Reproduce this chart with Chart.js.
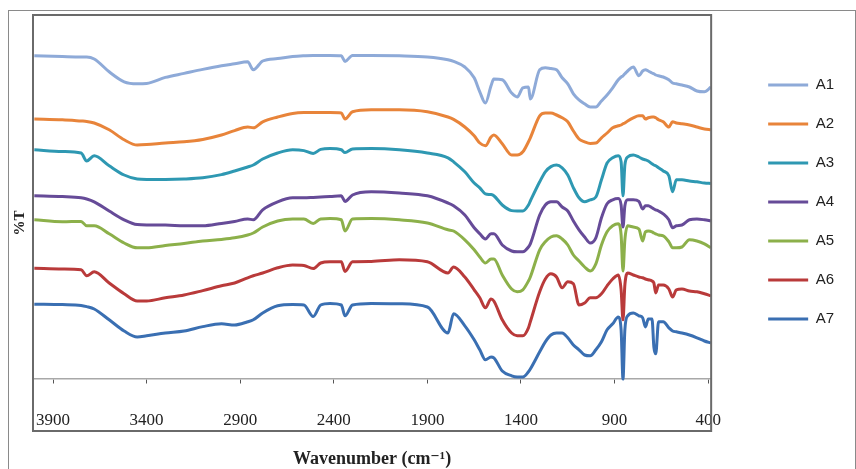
<!DOCTYPE html>
<html><head><meta charset="utf-8">
<script src="https://cdn.jsdelivr.net/npm/chart.js@4.4.1/dist/chart.umd.min.js"></script>
<style>html,body{margin:0;padding:0;background:#fff;}#wrap{width:856px;height:469px;}</style>
</head><body>
<div id="wrap"><canvas id="c" width="856" height="469"></canvas></div>
<script>
// Wavenumber grid (cm-1), shared by every series
const wavenumbers = [4000, 3850, 3750, 3720, 3680, 3600, 3520, 3450, 3400, 3300,
  3200, 3100, 3000, 2930, 2860, 2830, 2780, 2700, 2620, 2560,
  2510, 2470, 2420, 2360, 2340, 2300, 2200, 2050, 1900, 1790,
  1760, 1700, 1650, 1620, 1590, 1560, 1545, 1500, 1450, 1420,
  1390, 1360, 1350, 1300, 1270, 1240, 1210, 1180, 1150, 1120,
  1090, 1060, 1030, 1000, 970, 940, 910, 880, 865, 855,
  845, 830, 800, 770, 750, 735, 720, 700, 690, 680,
  665, 640, 610, 590, 570, 540, 500, 460, 420, 385];

const tickValues = [3900, 3400, 2900, 2400, 1900, 1400, 900, 400];
const seriesNames = ['A1', 'A2', 'A3', 'A4', 'A5', 'A6', 'A7'];

// %T (offset, stacked traces)
const A1 = [80.8, 80.6, 80.5, 80.5, 80, 76.8, 74.3, 73.8, 73.9, 75.4,
  76.4, 77.4, 78.3, 78.8, 79.3, 77.3, 79.5, 80.1, 80.6, 80.8,
  80.9, 80.9, 80.9, 80.8, 79.4, 80.9, 80.9, 80.8, 80.5, 79.8,
  79.4, 78, 75.3, 71.8, 69, 73.3, 75, 74.8, 71.5, 70.5,
  72.8, 73, 70, 77.3, 77.8, 77.6, 77.3, 75.3, 73.8, 71.3,
  69.8, 68.8, 68, 68, 69.5, 71, 72.8, 74.8, 75.5, 75.8,
  76.3, 77, 78, 75.8, 77, 77.3, 77, 76.5, 76.3, 76,
  75.8, 75.5, 74.8, 74, 73.8, 73.5, 73, 72, 71.8, 73];
const A2 = [65, 64.8, 64.5, 64.4, 64, 62.3, 59.8, 58.5, 58.6, 59,
  59.3, 59.9, 61, 62.1, 63, 62.8, 64.3, 65.5, 66.4, 66.6,
  66.6, 66.6, 66.6, 66.5, 65, 66.8, 67.3, 67.3, 66.8, 65.5,
  64.9, 63, 60.8, 59, 58.3, 60.5, 61, 58.8, 56, 56,
  56.8, 59.3, 60.3, 65.8, 66.5, 66.5, 66, 65.3, 64.3, 62,
  60, 59.3, 58.9, 59, 60.3, 61.5, 62.8, 63.3, 63.5, 63.8,
  64, 64.5, 65.3, 65.8, 65.8, 65, 65.3, 65.5, 65.5, 65.3,
  64.8, 64.3, 63, 64.3, 64, 63.8, 63.5, 63, 62.5, 62.3];
const A3 = [57.3, 56.9, 56.5, 54.5, 55.8, 53.3, 51, 50, 49.9, 49.9,
  50, 50.3, 51.1, 52, 53, 53.5, 55, 56.5, 57.3, 57.1,
  56.4, 57.4, 57.6, 57.3, 56.6, 57.5, 57.6, 57.3, 56.5, 55.3,
  54.3, 51.8, 49, 47.8, 46.3, 46.1, 45.8, 43.5, 42.1, 42,
  42, 43.5, 44.5, 49.3, 51.8, 53.1, 53.5, 52.8, 51, 47.8,
  45.3, 44.3, 44.8, 45.5, 49.8, 54, 55.3, 55.8, 54.3, 45.8,
  53.5, 55.5, 56, 55.5, 55, 54.8, 54.5, 53.8, 53.5, 53.3,
  52.8, 52, 50.8, 46.8, 49.8, 49.8, 49.5, 49.3, 49, 48.9];
const A4 = [45.8, 45.6, 45.3, 45, 44.3, 42, 39.8, 38.6, 38.5, 38.5,
  38.3, 38.3, 38.9, 39.4, 40, 39.8, 42.3, 44.3, 45.3, 45.3,
  45.4, 45.5, 45.6, 45.8, 44.4, 46, 46.8, 46.5, 45.8, 44,
  43.3, 41, 37.8, 36.3, 35, 36.3, 36.3, 33.5, 32, 31.8,
  31.8, 33, 33.8, 41, 43.5, 44.3, 44.3, 43, 42, 39.5,
  37.3, 35.5, 34, 35.3, 40.3, 43.8, 44.8, 45.1, 43.5, 38,
  43.3, 44.8, 44.8, 44.4, 42.5, 43.3, 43.3, 42.8, 42.5, 42.3,
  42, 41.3, 39.8, 37.8, 38.3, 38.5, 39.8, 40, 39.8, 39.5];
const A5 = [39.8, 39.3, 39.4, 38.3, 38.3, 36.3, 34, 32.8, 32.8, 33.4,
  33.9, 34.5, 34.9, 35.3, 36, 36.5, 38, 39.5, 40, 40,
  38.9, 40, 40.1, 39.8, 37, 40, 40.1, 39.8, 39, 37.3,
  37, 34.8, 32.3, 30.5, 29, 30, 30, 26, 22.5, 21.8,
  22.3, 24.5, 25.5, 32.3, 34.3, 35.5, 35.8, 35, 33.5, 31,
  29.5, 28, 27, 28.8, 33.5, 36.8, 38.3, 38.8, 36, 27,
  34.8, 38.3, 38, 37.5, 34.5, 36.8, 37, 36.8, 36.5, 36.3,
  36, 35.8, 34.3, 32.8, 32.8, 33, 34.8, 34.5, 33.8, 32.8];
const A6 = [27.7, 27.5, 27.3, 25.8, 26.8, 24, 21.3, 19.5, 19.5, 20.3,
  21, 22.1, 23.3, 24, 25.3, 25.8, 26.5, 27.8, 28.5, 28.4,
  27.6, 29, 29.3, 29.3, 26.9, 29.3, 29.4, 29.8, 29.3, 26.5,
  28, 25.5, 22.3, 20.3, 17.8, 20, 19.5, 14.8, 11.5, 10.8,
  10.8, 12.8, 14.3, 21.8, 25, 26.3, 25.5, 22.8, 24.3, 23.8,
  18.5, 19, 20.3, 20.3, 21.3, 23.3, 25, 26, 22.3, 14.8,
  23.5, 26.5, 26, 25.5, 25.3, 25, 24.8, 24.5, 24, 21.5,
  23.5, 23.5, 22.5, 20.5, 22.3, 22.5, 22, 21.8, 21.3, 20.8];
const A7 = [18.7, 18.6, 18.4, 18.1, 17.5, 14.8, 12, 10.5, 10.8, 11.5,
  12, 13.1, 13.8, 13.5, 14.3, 14.8, 16.5, 18.3, 18.6, 18.5,
  15.6, 18.5, 18.9, 18.5, 15.8, 18.5, 18.9, 18.8, 18, 11.5,
  16.3, 13.3, 9.8, 7.3, 4.8, 5.5, 5.3, 2, 0.8, 0.5,
  0.5, 1.8, 2.5, 6.8, 9.3, 11, 11.5, 11.5, 10.3, 8.5,
  7.3, 6, 5.8, 7.3, 9.3, 12.3, 13.8, 15.5, 12.3, 0,
  12.3, 15.8, 16.5, 15.8, 15.3, 13, 15, 15, 8, 6.3,
  14.3, 14.3, 12.8, 12, 11.8, 11.5, 11, 10.3, 9.5, 9];

const seriesValues = [A1, A2, A3, A4, A5, A6, A7];
const seriesColors = ['#8eaad8', '#e8843a', '#2e98b2', '#664b98', '#8cb04a', '#b93a3a', '#3a6fb2'];

const framePlugin = {
  id: 'frames',
  beforeDraw(chart) {
    const ctx = chart.ctx;
    ctx.save();
    ctx.fillStyle = '#ffffff';
    ctx.fillRect(0, 0, chart.width, chart.height);
    ctx.strokeStyle = '#8a8a8a';
    ctx.lineWidth = 1;
    ctx.strokeRect(8.5, 10.5, chart.width - 9, chart.height);
    ctx.restore();
  },
  afterDraw(chart) {
    const ctx = chart.ctx, a = chart.chartArea;
    ctx.save();
    ctx.strokeStyle = '#6a6a6a';
    ctx.lineWidth = 2;
    ctx.strokeRect(a.left, a.top, a.right - a.left, a.bottom - a.top);
    ctx.restore();
  }
};

new Chart(document.getElementById('c'), {
  type: 'line',
  data: {
    datasets: seriesNames.map((name, i) => ({
      label: name,
      data: wavenumbers.map((w, j) => ({ x: w, y: seriesValues[i][j] })),
      borderColor: seriesColors[i],
      backgroundColor: seriesColors[i],
      borderWidth: 3,
      pointRadius: 0,
      fill: false,
      cubicInterpolationMode: 'monotone'
    }))
  },
  options: {
    responsive: false,
    animation: false,
    devicePixelRatio: 1,
    layout: { padding: { top: 15, left: 0, right: 12, bottom: 38 } },
    plugins: {
      tooltip: { enabled: false },
      legend: {
        position: 'right',
        align: 'start',
        title: { display: true, text: '', font: { size: 12 }, padding: { top: 0, bottom: 24 } },
        labels: {
          usePointStyle: true,
          pointStyle: 'line',
          pointStyleWidth: 40,
          padding: 24,
          color: '#222',
          font: { family: "'Liberation Sans', Arial, sans-serif", size: 15 }
        }
      }
    },
    scales: {
      x: {
        type: 'linear',
        reverse: true,
        min: 384,
        max: 4007,
        position: { y: 0 },
        afterBuildTicks: (s) => { s.ticks = tickValues.map(v => ({ value: v })); },
        afterFit: (s) => { s.height = 91; },
        grid: { drawOnChartArea: false, drawTicks: true, tickLength: 4, color: '#555', tickWidth: 1 },
        border: { display: true, color: '#a8a8a8', width: 1.5 },
        ticks: {
          padding: 27, autoSkip: false, maxRotation: 0, color: '#222',
          font: { family: "'Liberation Serif', 'Times New Roman', serif", size: 17 },
          callback: (v) => String(v)
        },
        title: {
          display: true, text: 'Wavenumber (cm⁻¹)', color: '#222',
          font: { family: "'Liberation Serif', 'DejaVu Serif', serif", size: 18, weight: 'bold' },
          padding: { top: 0, bottom: 0 }
        }
      },
      y: {
        min: -13,
        max: 91,
        position: 'left',
        afterFit: (s) => { s.width = 33; },
        grid: { display: false },
        border: { display: false },
        ticks: { display: false },
        title: {
          display: true, text: '%T', color: '#222',
          font: { family: "'Liberation Serif', 'DejaVu Serif', serif", size: 15, weight: 'bold' },
          padding: { top: 11, bottom: 0 }
        }
      },
      yRight: {
        position: 'right',
        afterFit: (s) => { s.width = 33; },
        grid: { display: false },
        border: { display: false },
        ticks: { display: false }
      }
    }
  },
  plugins: [framePlugin]
});
</script>
</body></html>
